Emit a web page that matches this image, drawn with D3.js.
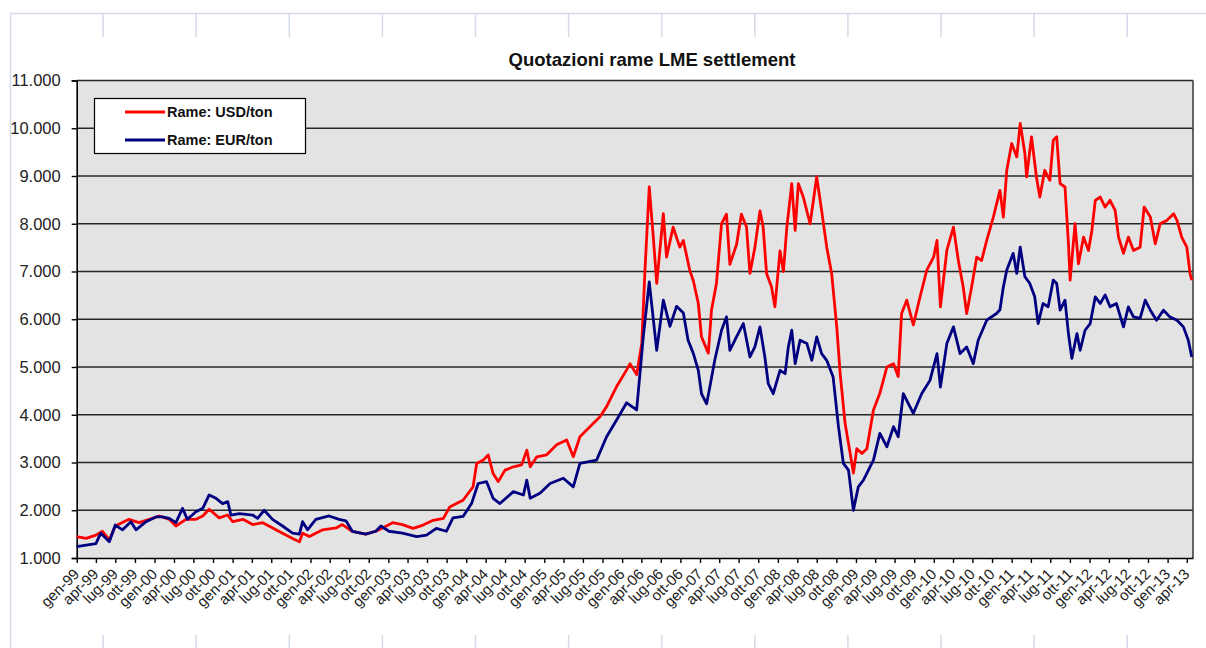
<!DOCTYPE html>
<html>
<head>
<meta charset="utf-8">
<script src="https://cdn.jsdelivr.net/npm/d3@7"></script>
<style>
body { margin: 0; background: #fff; }
svg { display: block; font-family: Arial, "Liberation Sans", sans-serif; }
</style>
</head>
<body>
<svg id="chart" width="1206" height="648"></svg>
<script>
// Quotazioni rame LME settlement
var usd = [
    ["1999-01-01",1450],["1999-02-14",1410],["1999-04-01",1480],["1999-05-01",1560],["1999-06-03",1380],
    ["1999-07-01",1670],["1999-09-03",1810],["1999-10-20",1740],["1999-12-07",1810],["2000-01-23",1880],
    ["2000-03-10",1810],["2000-04-10",1670],["2000-05-27",1810],["2000-07-13",1810],["2000-08-14",1880],
    ["2000-09-13",2020],["2000-10-30",1840],["2000-12-09",1900],["2001-01-01",1760],["2001-02-18",1810],
    ["2001-04-05",1700],["2001-05-22",1740],["2001-06-20",1670],["2001-08-23",1520],["2001-10-09",1410],
    ["2001-11-10",1340],["2001-11-25",1520],["2001-12-27",1450],["2002-02-27",1590],["2002-05-01",1630],
    ["2002-05-30",1700],["2002-07-16",1560],["2002-09-17",1500],["2002-11-03",1560],["2002-12-05",1630],
    ["2003-01-21",1740],["2003-03-08",1700],["2003-04-27",1620],["2003-06-13",1690],["2003-07-30",1790],
    ["2003-09-16",1830],["2003-10-16",2070],["2003-11-16",2140],["2003-12-17",2210],["2004-02-02",2490],
    ["2004-02-19",2980],["2004-03-21",3050],["2004-04-13",3160],["2004-05-06",2770],["2004-05-30",2600],
    ["2004-07-01",2840],["2004-08-09",2910],["2004-09-17",2950],["2004-10-11",3260],["2004-10-27",2910],
    ["2004-11-27",3120],["2005-01-12",3160],["2005-02-28",3370],["2005-04-16",3470],["2005-05-17",3120],
    ["2005-06-17",3540],["2005-08-03",3750],["2005-09-19",3960],["2005-10-20",4170],["2005-12-06",4590],
    ["2006-01-22",4940],["2006-02-07",5070],["2006-03-10",4840],["2006-04-03",5490],["2006-04-18",7030],
    ["2006-05-08",8770],["2006-05-27",7720],["2006-06-12",6750],["2006-07-13",8210],["2006-07-28",7300],
    ["2006-08-28",7930],["2006-09-28",7510],["2006-10-15",7650],["2006-11-14",7020],["2006-12-01",6800],
    ["2006-12-24",6330],["2007-01-08",5630],["2007-02-09",5290],["2007-02-24",6200],["2007-03-19",6750],
    ["2007-04-12",8000],["2007-05-05",8200],["2007-05-21",7150],["2007-06-21",7560],["2007-07-14",8200],
    ["2007-08-07",7930],["2007-08-23",6960],["2007-09-15",7500],["2007-10-09",8270],["2007-10-24",7930],
    ["2007-11-09",6960],["2007-12-02",6680],["2007-12-18",6260],["2008-01-11",7430],["2008-01-27",7000],
    ["2008-02-12",7930],["2008-03-06",8840],["2008-03-22",7860],["2008-04-06",8840],["2008-04-29",8560],
    ["2008-05-31",8000],["2008-07-01",8980],["2008-07-24",8280],["2008-08-17",7510],["2008-09-09",6960],
    ["2008-10-03",5840],["2008-10-19",4860],["2008-11-11",3820],["2008-12-05",3190],["2008-12-20",2780],
    ["2009-01-05",3290],["2009-01-29",3190],["2009-02-21",3290],["2009-03-24",4100],["2009-04-23",4450],
    ["2009-05-26",5000],["2009-06-26",5070],["2009-07-18",4800],["2009-08-03",6120],["2009-08-27",6400],
    ["2009-09-27",5880],["2009-10-28",6460],["2009-11-29",7030],["2009-12-31",7300],["2010-01-16",7650],
    ["2010-02-01",6260],["2010-03-03",7440],["2010-04-03",7930],["2010-04-26",7230],["2010-05-19",6670],
    ["2010-06-04",6120],["2010-06-27",6670],["2010-07-21",7300],["2010-08-13",7230],["2010-09-06",7650],
    ["2010-10-07",8140],["2010-11-07",8700],["2010-11-23",8140],["2010-12-09",9120],["2011-01-01",9680],
    ["2011-01-25",9400],["2011-02-10",10100],["2011-03-04",9470],["2011-03-12",8980],["2011-04-04",9820],
    ["2011-04-27",8980],["2011-05-13",8560],["2011-06-05",9120],["2011-06-29",8910],["2011-07-15",9750],
    ["2011-07-31",9820],["2011-08-16",8840],["2011-09-08",8770],["2011-09-24",7590],["2011-10-02",6820],
    ["2011-10-25",8000],["2011-11-10",7160],["2011-12-04",7720],["2011-12-27",7440],["2012-01-12",7860],
    ["2012-01-28",8490],["2012-02-20",8560],["2012-03-14",8350],["2012-04-06",8490],["2012-04-30",8280],
    ["2012-05-16",7720],["2012-06-08",7380],["2012-07-01",7720],["2012-07-25",7440],["2012-08-25",7510],
    ["2012-09-13",8350],["2012-10-12",8140],["2012-11-04",7580],["2012-11-27",8000],["2012-12-28",8070],
    ["2013-01-29",8210],["2013-02-14",8070],["2013-03-08",7720],["2013-04-01",7510],["2013-04-16",6960],
    ["2013-04-24",6820]
];

var eur = [
    ["1999-01-01",1240],["1999-02-14",1270],["1999-04-01",1300],["1999-04-24",1520],["1999-06-03",1340],
    ["1999-07-01",1690],["1999-08-04",1590],["1999-09-12",1760],["1999-10-06",1590],["1999-11-22",1760],
    ["2000-01-07",1860],["2000-02-07",1860],["2000-03-10",1830],["2000-04-10",1740],["2000-05-11",2040],
    ["2000-06-03",1810],["2000-07-13",1970],["2000-08-14",2040],["2000-09-13",2320],["2000-10-15",2250],
    ["2000-11-15",2140],["2000-12-09",2180],["2000-12-24",1900],["2001-02-02",1930],["2001-04-05",1900],
    ["2001-04-28",1830],["2001-05-29",2000],["2001-07-07",1810],["2001-08-23",1670],["2001-10-09",1520],
    ["2001-11-10",1500],["2001-11-25",1760],["2001-12-18",1590],["2002-01-26",1810],["2002-03-29",1880],
    ["2002-05-15",1810],["2002-06-16",1780],["2002-07-16",1560],["2002-09-17",1500],["2002-11-03",1560],
    ["2002-11-27",1670],["2003-01-04",1560],["2003-03-08",1520],["2003-05-14",1450],["2003-06-29",1480],
    ["2003-08-14",1620],["2003-09-30",1560],["2003-10-31",1840],["2003-12-17",1870],["2004-01-26",2140],
    ["2004-02-26",2560],["2004-04-05",2600],["2004-05-06",2250],["2004-06-07",2140],["2004-08-09",2390],
    ["2004-09-25",2320],["2004-10-11",2630],["2004-10-27",2250],["2004-12-13",2360],["2005-01-28",2560],
    ["2005-03-31",2670],["2005-05-17",2490],["2005-06-17",2980],["2005-09-03",3050],["2005-10-20",3540],
    ["2005-12-06",3890],["2006-01-22",4250],["2006-03-10",4100],["2006-04-10",5630],["2006-05-08",6780],
    ["2006-06-12",5350],["2006-07-13",6400],["2006-08-13",5850],["2006-09-13",6270],["2006-10-15",6130],
    ["2006-11-06",5560],["2006-12-01",5280],["2006-12-24",4930],["2007-01-08",4440],["2007-02-01",4230],
    ["2007-02-16",4580],["2007-03-11",5140],["2007-04-12",5770],["2007-05-05",6050],["2007-05-21",5350],
    ["2007-06-21",5630],["2007-07-23",5910],["2007-08-23",5210],["2007-09-15",5420],["2007-10-09",5840],
    ["2007-11-01",5210],["2007-11-17",4650],["2007-12-10",4440],["2008-01-11",4930],["2008-02-04",4860],
    ["2008-02-19",5420],["2008-03-06",5770],["2008-03-22",5070],["2008-04-14",5560],["2008-05-16",5490],
    ["2008-06-08",5140],["2008-07-01",5630],["2008-07-24",5280],["2008-08-17",5140],["2008-09-16",4790],
    ["2008-10-11",3750],["2008-11-03",2980],["2008-11-27",2840],["2008-12-20",2000],["2009-01-12",2490],
    ["2009-02-05",2630],["2009-03-08",2910],["2009-03-24",3050],["2009-04-23",3610],["2009-05-26",3330],
    ["2009-06-26",3750],["2009-07-18",3540],["2009-08-11",4440],["2009-09-27",4030],["2009-11-05",4440],
    ["2009-12-14",4720],["2010-01-16",5280],["2010-02-01",4580],["2010-03-03",5490],["2010-04-03",5840],
    ["2010-05-04",5280],["2010-06-04",5420],["2010-07-05",5070],["2010-07-28",5560],["2010-09-06",5980],
    ["2010-10-22",6120],["2010-11-07",6200],["2010-11-22",6650],["2010-12-09",7030],["2011-01-08",7380],
    ["2011-01-25",6960],["2011-02-10",7510],["2011-03-04",6890],["2011-03-27",6750],["2011-04-19",6470],
    ["2011-05-05",5910],["2011-05-28",6330],["2011-06-21",6260],["2011-07-15",6820],["2011-07-31",6750],
    ["2011-08-16",6190],["2011-09-08",6400],["2011-09-24",5700],["2011-10-10",5180],["2011-11-03",5700],
    ["2011-11-18",5350],["2011-12-11",5770],["2012-01-04",5910],["2012-01-28",6470],["2012-02-20",6330],
    ["2012-03-14",6510],["2012-04-06",6260],["2012-05-06",6330],["2012-06-08",5840],["2012-07-01",6260],
    ["2012-07-25",6050],["2012-08-25",6020],["2012-09-18",6400],["2012-10-12",6190],["2012-11-10",5980],
    ["2012-12-13",6190],["2013-01-11",6050],["2013-02-14",5980],["2013-03-16",5840],["2013-04-08",5560],
    ["2013-04-24",5210]
];

var seriesNames = ['Rame: USD/ton', 'Rame: EUR/ton'];
var seriesColors = ['#ff0000', '#000080'];
var quarterNames = ['gen', 'apr', 'lug', 'ott'];
var yTicks = d3.range(1000, 11001, 1000);

(function() {
    var svg = d3.select('#chart');
    var parse = d3.timeParse('%Y-%m-%d');
    var itFormat = d3.formatLocale({decimal: ',', thousands: '.', grouping: [3], currency: ['', '€']}).format(',');

    var plotL = 76.7, plotR = 1193, plotT = 80.5, plotB = 558;

    // spreadsheet cell lines behind the chart
    var frame = svg.append('g').attr('stroke', '#d3dae8').attr('stroke-width', 1.5);
    frame.append('line').attr('x1', 10).attr('x2', 1206).attr('y1', 13.5).attr('y2', 13.5);
    frame.append('line').attr('x1', 10.5).attr('x2', 10.5).attr('y1', 13).attr('y2', 648);
    d3.range(1, 13).forEach(function(k) {
        var cx = 10 + 93.1 * k;
        frame.append('line').attr('x1', cx).attr('x2', cx).attr('y1', 13).attr('y2', 37);
        frame.append('line').attr('x1', cx).attr('x2', cx).attr('y1', 635).attr('y2', 648);
    });

    var x = d3.scaleTime()
        .domain([parse('1999-01-01'), parse('2013-04-30')])
        .range([plotL, plotR]);
    var y = d3.scaleLinear().domain([1000, 11000]).range([plotB, plotT]);

    svg.append('rect')
        .attr('x', plotL).attr('y', plotT)
        .attr('width', plotR - plotL).attr('height', plotB - plotT)
        .attr('fill', '#e3e3e3');

    // gridlines
    svg.append('g').selectAll('line').data(yTicks.slice(1)).enter().append('line')
        .attr('x1', plotL).attr('x2', plotR)
        .attr('y1', function(d) { return y(d); })
        .attr('y2', function(d) { return y(d); })
        .attr('stroke', '#262626').attr('stroke-width', 1.6);

    // plot border right
    svg.append('line').attr('x1', plotR).attr('x2', plotR).attr('y1', plotT).attr('y2', plotB)
        .attr('stroke', '#404040').attr('stroke-width', 1.6);

    // title
    svg.append('text')
        .attr('x', 652).attr('y', 66)
        .attr('text-anchor', 'middle')
        .attr('font-size', 18.5).attr('font-weight', 'bold')
        .attr('fill', '#111')
        .text('Quotazioni rame LME settlement');

    // y axis
    var yAxis = svg.append('g')
        .attr('transform', 'translate(' + plotL + ',0)')
        .call(d3.axisLeft(y).tickValues(yTicks).tickSize(5).tickFormat(itFormat));
    yAxis.select('.domain').attr('stroke', '#000').attr('stroke-width', 1.6);
    yAxis.selectAll('.tick line').attr('stroke', '#000').attr('stroke-width', 1.4);
    yAxis.selectAll('text').attr('font-size', 16.5).attr('fill', '#222').attr('x', -16);

    // x axis
    var quarters = d3.timeMonth.every(3).range(parse('1999-01-01'), parse('2013-04-02'));
    var xAxis = svg.append('g')
        .attr('transform', 'translate(0,' + plotB + ')')
        .call(d3.axisBottom(x).tickValues(quarters).tickSize(5).tickSizeOuter(0)
            .tickFormat(function(d) {
                return quarterNames[d.getMonth() / 3] + '-' + d3.timeFormat('%y')(d);
            }));
    xAxis.select('.domain').attr('stroke', '#000').attr('stroke-width', 1.6);
    xAxis.selectAll('.tick line').attr('stroke', '#000').attr('stroke-width', 1.4);
    xAxis.selectAll('text')
        .attr('font-size', 15).attr('fill', '#222')
        .attr('text-anchor', 'end')
        .attr('x', 0).attr('y', 0).attr('dy', 0)
        .attr('transform', 'translate(3,17) rotate(-45)');

    // series lines
    var line = d3.line()
        .x(function(d) { return x(parse(d[0])); })
        .y(function(d) { return y(d[1]); });

    [usd, eur].forEach(function(series, i) {
        svg.append('path')
            .datum(series)
            .attr('d', line)
            .attr('fill', 'none')
            .attr('stroke', seriesColors[i])
            .attr('stroke-width', 2.8)
            .attr('stroke-linejoin', 'round');
    });

    // legend
    var legend = svg.append('g');
    legend.append('rect')
        .attr('x', 94.5).attr('y', 98.5).attr('width', 211).attr('height', 55)
        .attr('fill', '#fff').attr('stroke', '#000').attr('stroke-width', 1.2);
    seriesNames.forEach(function(name, i) {
        var ly = 112 + i * 28;
        legend.append('line')
            .attr('x1', 125).attr('x2', 165).attr('y1', ly).attr('y2', ly)
            .attr('stroke', seriesColors[i]).attr('stroke-width', 3);
        legend.append('text')
            .attr('x', 167).attr('y', ly + 5)
            .attr('font-size', 14.5).attr('font-weight', 'bold').attr('fill', '#111')
            .text(name);
    });
})();
</script>
</body>
</html>
